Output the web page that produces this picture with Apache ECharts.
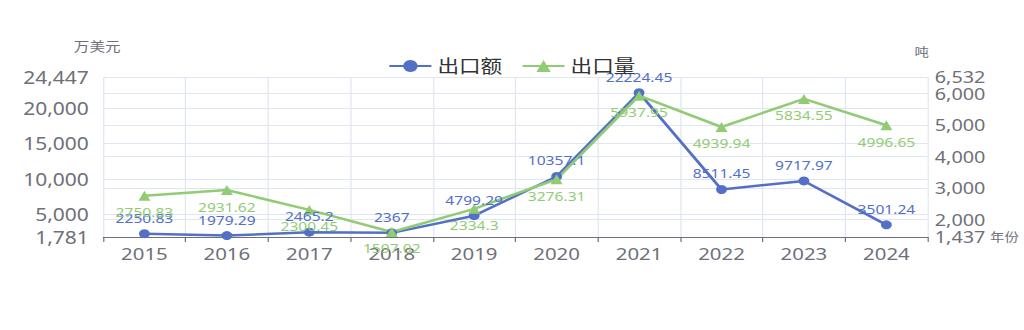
<!DOCTYPE html>
<html><head><meta charset="utf-8">
<script src="https://cdn.jsdelivr.net/npm/echarts@6/dist/echarts.min.js"></script>
<style>html,body{margin:0;padding:0;background:#fff;overflow:hidden}
#c{width:853px;height:330px;transform:scaleX(1.2);transform-origin:0 0}</style>
</head><body><div id="c"></div>
<script>
const categories = ['2015','2016','2017','2018','2019','2020','2021','2022','2023','2024'];
const exportValue = [2250.83, 1979.29, 2465.2, 2367, 4799.29, 10357.1, 22224.45, 8511.45, 9717.97, 3501.24];
const exportVolume = [2750.83, 2931.62, 2300.45, 1597.02, 2334.3, 3276.31, 5937.95, 4939.94, 5834.55, 4996.65];
const seriesNames = ['出口额', '出口量'];
const axisNames = ['万美元', '吨', '年份'];

const chart = echarts.init(document.getElementById('c'), null, { renderer: 'svg' });
const font = '"Noto Sans", "Noto Sans CJK SC", sans-serif';
const gray = '#6e7079';
chart.setOption({
  animation: false,
  color: ['#5470c6', '#91cc75'],
  textStyle: { fontFamily: font },
  legend: {
    top: 52, left: 'center', itemWidth: 35, itemHeight: 15, itemGap: 16,
    textStyle: { fontSize: 18, color: '#333', fontFamily: font },
    data: seriesNames
  },
  grid: { left: 86, right: 80, top: 77, bottom: 93, containLabel: false },
  xAxis: {
    type: 'category', data: categories, name: axisNames[2], nameGap: 20,
    nameTextStyle: { fontSize: 12, color: gray, fontFamily: font },
    axisLine: { lineStyle: { color: gray } },
    axisTick: { show: true },
    axisLabel: { fontSize: 17, color: gray, fontFamily: font, margin: 8 },
    splitLine: { show: true, lineStyle: { color: '#e0e6f1' } }
  },
  yAxis: [
    {
      type: 'value', name: axisNames[0], nameGap: 24,
      nameTextStyle: { fontSize: 13, color: gray, fontFamily: font, padding: [0, 10, 0, 0] },
      min: v => Math.round(v.min * 0.9), max: v => Math.round(v.max * 1.1),
      axisLabel: { fontSize: 17.5, color: gray, fontFamily: font, margin: 12, showMinLabel: true, showMaxLabel: true },
      splitLine: { lineStyle: { color: '#e0e6f1' } }
    },
    {
      type: 'value', name: axisNames[1], nameGap: 19,
      nameTextStyle: { fontSize: 12, color: gray, fontFamily: font, padding: [0, 10, 0, 0] },
      min: v => Math.round(v.min * 0.9), max: v => Math.round(v.max * 1.1),
      axisLabel: { fontSize: 16.5, color: gray, fontFamily: font, margin: 6, showMinLabel: true, showMaxLabel: true },
      splitLine: { lineStyle: { color: '#e0e6f1' } }
    }
  ],
  series: [
    {
      name: seriesNames[0], type: 'line', yAxisIndex: 0, data: exportValue,
      symbol: 'circle', symbolSize: 9, lineStyle: { width: 2.5 },
      label: { show: true, position: 'top', fontSize: 13, color: '#5470c6', fontFamily: font }
    },
    {
      name: seriesNames[1], type: 'line', yAxisIndex: 1, data: exportVolume,
      symbol: 'triangle', symbolSize: 10, lineStyle: { width: 2.5 },
      label: { show: true, position: 'bottom', fontSize: 13, color: '#91cc75', fontFamily: font }
    }
  ]
});
</script></body></html>
